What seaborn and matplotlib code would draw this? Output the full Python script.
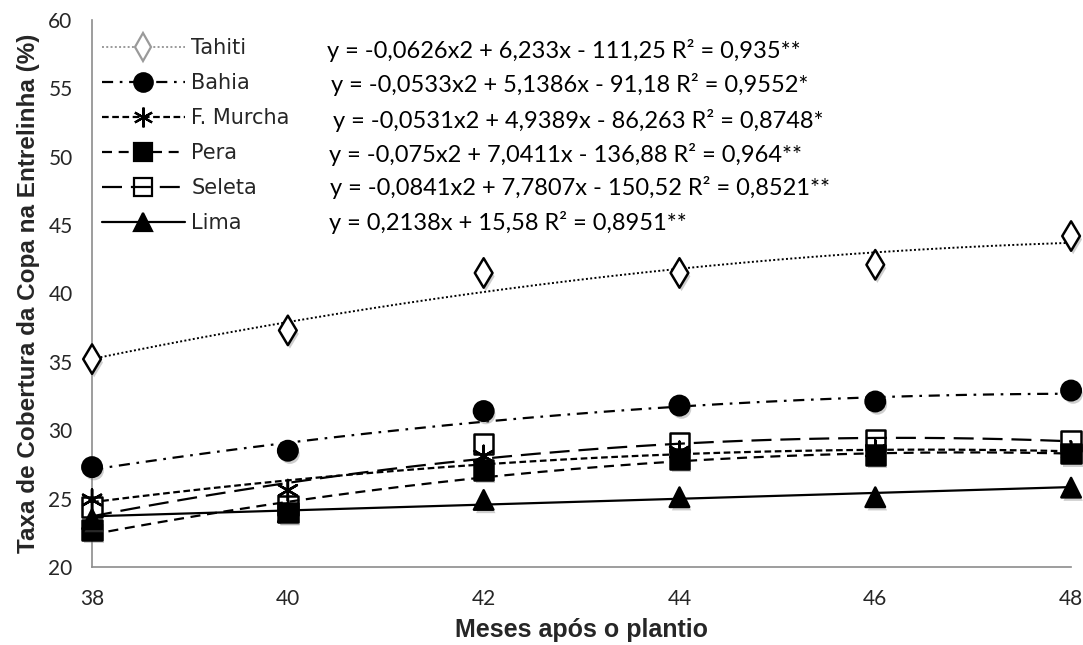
import numpy as np
import pandas as pd
import seaborn as sns
import matplotlib
matplotlib.use("Agg")
import matplotlib.pyplot as plt
from matplotlib.lines import Line2D
import matplotlib.patheffects as pe

# Observed canopy coverage (%) by month after planting
months = [38, 40, 42, 44, 46, 48]
tahiti = [35.2, 37.3, 41.5, 41.5, 42.1, 44.2]
bahia = [27.3, 28.5, 31.4, 31.8, 32.1, 32.9]
f_murcha = [24.9, 25.6, 28.1, 28.4, 28.5, 28.4]
pera = [22.7, 24.0, 27.1, 27.9, 28.2, 28.3]
seleta = [24.4, 24.5, 29.0, 29.1, 29.3, 29.2]
lima = [23.5, 24.0, 24.9, 25.1, 25.1, 25.8]

# Fitted regression coefficients (highest degree first)
coef_tahiti = [-0.0626, 6.233, -111.25]
coef_bahia = [-0.0533, 5.1386, -91.18]
coef_f_murcha = [-0.0531, 4.9389, -86.263]
coef_pera = [-0.075, 7.0411, -136.88]
coef_seleta = [-0.0841, 7.7807, -150.52]
coef_lima = [0.2138, 15.58]

names = ["Tahiti", "Bahia", "F. Murcha", "Pera", "Seleta", "Lima"]
equations = [
    "y = -0,0626x2 + 6,233x - 111,25 R² = 0,935**",
    "y = -0,0533x2 + 5,1386x - 91,18 R² = 0,9552*",
    "y = -0,0531x2 + 4,9389x - 86,263 R² = 0,8748*",
    "y = -0,075x2 + 7,0411x - 136,88 R² = 0,964**",
    "y = -0,0841x2 + 7,7807x - 150,52 R² = 0,8521**",
    "y = 0,2138x + 15,58 R² = 0,8951**",
]

values = [tahiti, bahia, f_murcha, pera, seleta, lima]
coefs = [coef_tahiti, coef_bahia, coef_f_murcha, coef_pera, coef_seleta, coef_lima]

styles = {
    "Tahiti":    dict(marker="d", face="white", size=15, dashes=(1, 1.2), lw=1.4, leg="#9a9a9a"),
    "Bahia":     dict(marker="o", face="black", size=14, dashes=(5, 3, 1.2, 3), lw=1.6, leg="black"),
    "F. Murcha": dict(marker=(6, 2, 0), face="black", size=15, dashes=(3, 1.6), lw=1.6, leg="black"),
    "Pera":      dict(marker="s", face="black", size=14, dashes=(4.5, 3), lw=1.6, leg="black"),
    "Seleta":    dict(marker="s", face="none", size=14, dashes=(9, 4), lw=1.6, leg="black"),
    "Lima":      dict(marker="^", face="black", size=14, dashes=None, lw=1.6, leg="black"),
}

sns.set_theme(style="white")
plt.rcParams["font.family"] = ["DejaVu Sans"]

fig = plt.figure(figsize=(10.83, 6.45), dpi=100)
ax = fig.add_axes([0.085, 0.121, 0.904, 0.848])

shadow = [pe.SimplePatchShadow(offset=(1.5, -2.5), shadow_rgbFace="0.45", alpha=0.35), pe.Normal()]

xs = np.linspace(38, 48, 200)
handles = []
for name, vals, coef in zip(names, values, coefs):
    st = styles[name]
    curve = np.polyval(coef, xs)
    line_df = pd.DataFrame({"x": xs, "y": curve})
    sns.lineplot(data=line_df, x="x", y="y", ax=ax, color="black", lw=st["lw"], zorder=2)
    ln = ax.lines[-1]
    if st["dashes"] is not None:
        ln.set_dashes(st["dashes"])
    pts = pd.DataFrame({"x": months, "y": vals})
    mk = dict(marker=st["marker"], s=st["size"] ** 2, color="black",
              edgecolor="black", linewidth=1.8, zorder=4, clip_on=False,
              facecolor=st["face"])
    sns.scatterplot(data=pts, x="x", y="y", ax=ax, legend=False, **mk)
    if st["face"] != "none":
        ax.collections[-1].set_path_effects(shadow)
    h = Line2D([0], [0], color=st["leg"], lw=st["lw"], marker=st["marker"],
               markersize=st["size"] * 0.95, markerfacecolor=st["face"],
               markeredgecolor=st["leg"], markeredgewidth=1.6)
    if st["dashes"] is not None:
        h.set_dashes(st["dashes"])
    handles.append(h)

ax.set_xlim(38, 48)
ax.set_ylim(20, 60)
ax.set_xticks(months)
ax.set_yticks(range(20, 61, 5))
for s in ["top", "right"]:
    ax.spines[s].set_visible(False)
for s in ["left", "bottom"]:
    ax.spines[s].set_color("#8c8c8c")
    ax.spines[s].set_linewidth(1.2)
ax.tick_params(axis="both", length=0, labelsize=15)
ax.tick_params(axis="y", pad=14)
ax.tick_params(axis="x", pad=16)
for lab in ax.get_xticklabels() + ax.get_yticklabels():
    lab.set_family("Lato")

ax.set_xlabel("Meses após o plantio", fontsize=18, fontweight="bold",
              family="Liberation Sans", labelpad=6)
ax.set_ylabel("Taxa de Cobertura da Copa na Entrelinha (%)", fontsize=17.5,
              fontweight="bold", family="Liberation Sans", labelpad=6)

leg = ax.legend(handles, names, loc="upper left", bbox_to_anchor=(-0.003, 0.99),
                frameon=False, fontsize=15, handlelength=4.0, labelspacing=0.72,
                handletextpad=0.3, borderaxespad=0.2)

eq_x = [327, 331, 333, 329, 330, 329]
eq_y = [50, 85, 120, 154, 188, 223]
for txt, px, py in zip(equations, eq_x, eq_y):
    fig.text(px / 1083, 1 - py / 645, txt, fontsize=17, family="Lato",
             va="center", ha="left", color="black")

fig.savefig("out.png", dpi=100)
